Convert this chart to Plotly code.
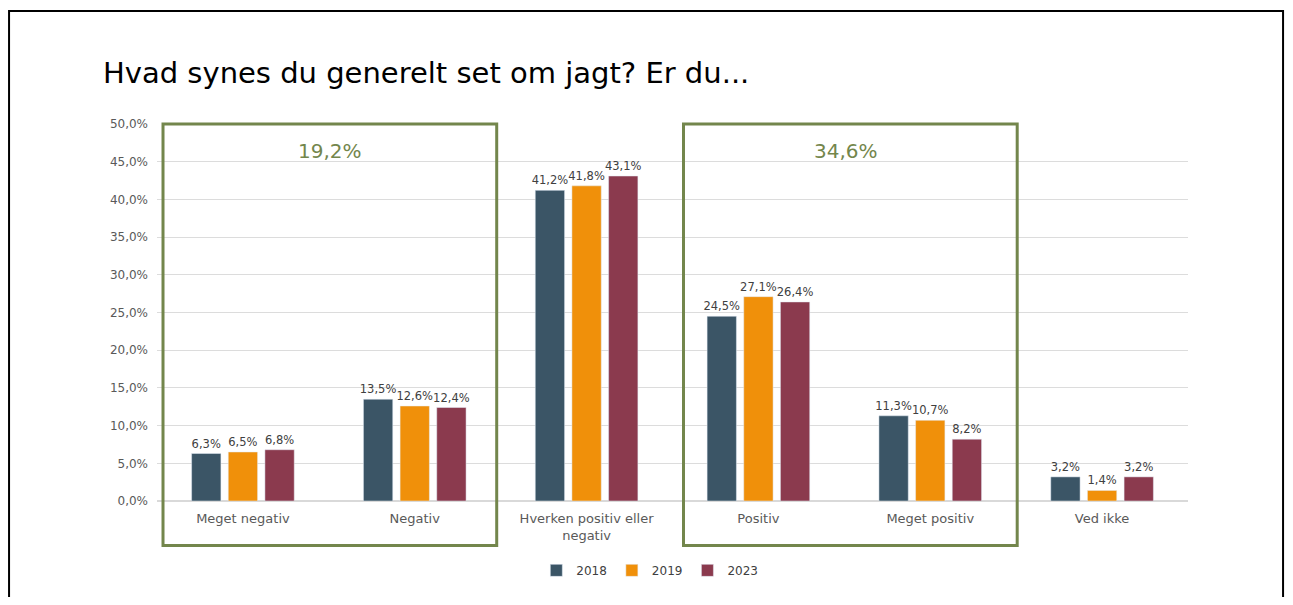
import plotly.graph_objects as go

categories = ["Meget negativ", "Negativ", "Hverken positiv eller<br>negativ",
              "Positiv", "Meget positiv", "Ved ikke"]
years = ["2018", "2019", "2023"]
values_2018 = [6.3, 13.5, 41.2, 24.5, 11.3, 3.2]
values_2019 = [6.5, 12.6, 41.8, 27.1, 10.7, 1.4]
values_2023 = [6.8, 12.4, 43.1, 26.4, 8.2, 3.2]
group_totals = ["19,2%", "34,6%"]

colors = ["#3b5566", "#f0900a", "#8b3a4e"]
green = "#73864c"
font_family = "DejaVu Sans"

W, H = 1277, 589

fig = go.Figure()
for year, vals, col in zip(years, [values_2018, values_2019, values_2023], colors):
    fig.add_trace(go.Bar(
        name=year, x=categories, y=vals, marker_color=col,
        texttemplate="%{y:.1f}%", textposition="outside", constraintext="none",
        textfont=dict(size=11.5, color="#404040"), cliponaxis=False,
    ))

# outer frame
fig.add_shape(type="rect", xref="paper", yref="paper",
              x0=-0.1435, x1=1.0922, y0=-0.3, y1=1.3,
              line=dict(color="black", width=2))

# green group boxes
for x0, x1 in [(-0.465, 1.477), (2.564, 4.506)]:
    fig.add_shape(type="rect", xref="x", yref="paper",
                  x0=x0, x1=x1, y0=-0.118, y1=1.0,
                  line=dict(color=green, width=3))

for xc, label in zip([0.506, 3.51], group_totals):
    fig.add_annotation(x=xc, y=46.4, xref="x", yref="y", text=label,
                       showarrow=False, font=dict(size=20, color=green))

fig.update_layout(
    width=W, height=H,
    margin=dict(l=149, r=97, t=116, b=90),
    paper_bgcolor="white", plot_bgcolor="white",
    separators=",.",
    font=dict(family=font_family, color="#595959"),
    title=dict(text="Hvad synes du generelt set om jagt? Er du...",
               x=95 / W, xanchor="left", xref="container",
               y=1 - 65 / H, yanchor="middle", yref="container",
               font=dict(size=29, color="black", family=font_family)),
    barmode="group", bargap=0.36, bargroupgap=0.2,
    showlegend=True,
    legend=dict(orientation="h", x=0.478, xanchor="center", y=-0.184, yanchor="middle",
                font=dict(size=12, color="#404040"), itemwidth=30),
)
fig.update_yaxes(range=[0, 50], dtick=5, ticksuffix="%", tickformat=".1f",
                 gridcolor="#dcdcdc", showline=False, zeroline=True,
                 zerolinecolor="#d9d9d9", tickfont=dict(size=12, color="#595959"),
                 ticklabelstandoff=8)
fig.update_xaxes(tickfont=dict(size=13, color="#595959"), showline=False,
                 ticklabelstandoff=8)

fig.write_html("out.html")
